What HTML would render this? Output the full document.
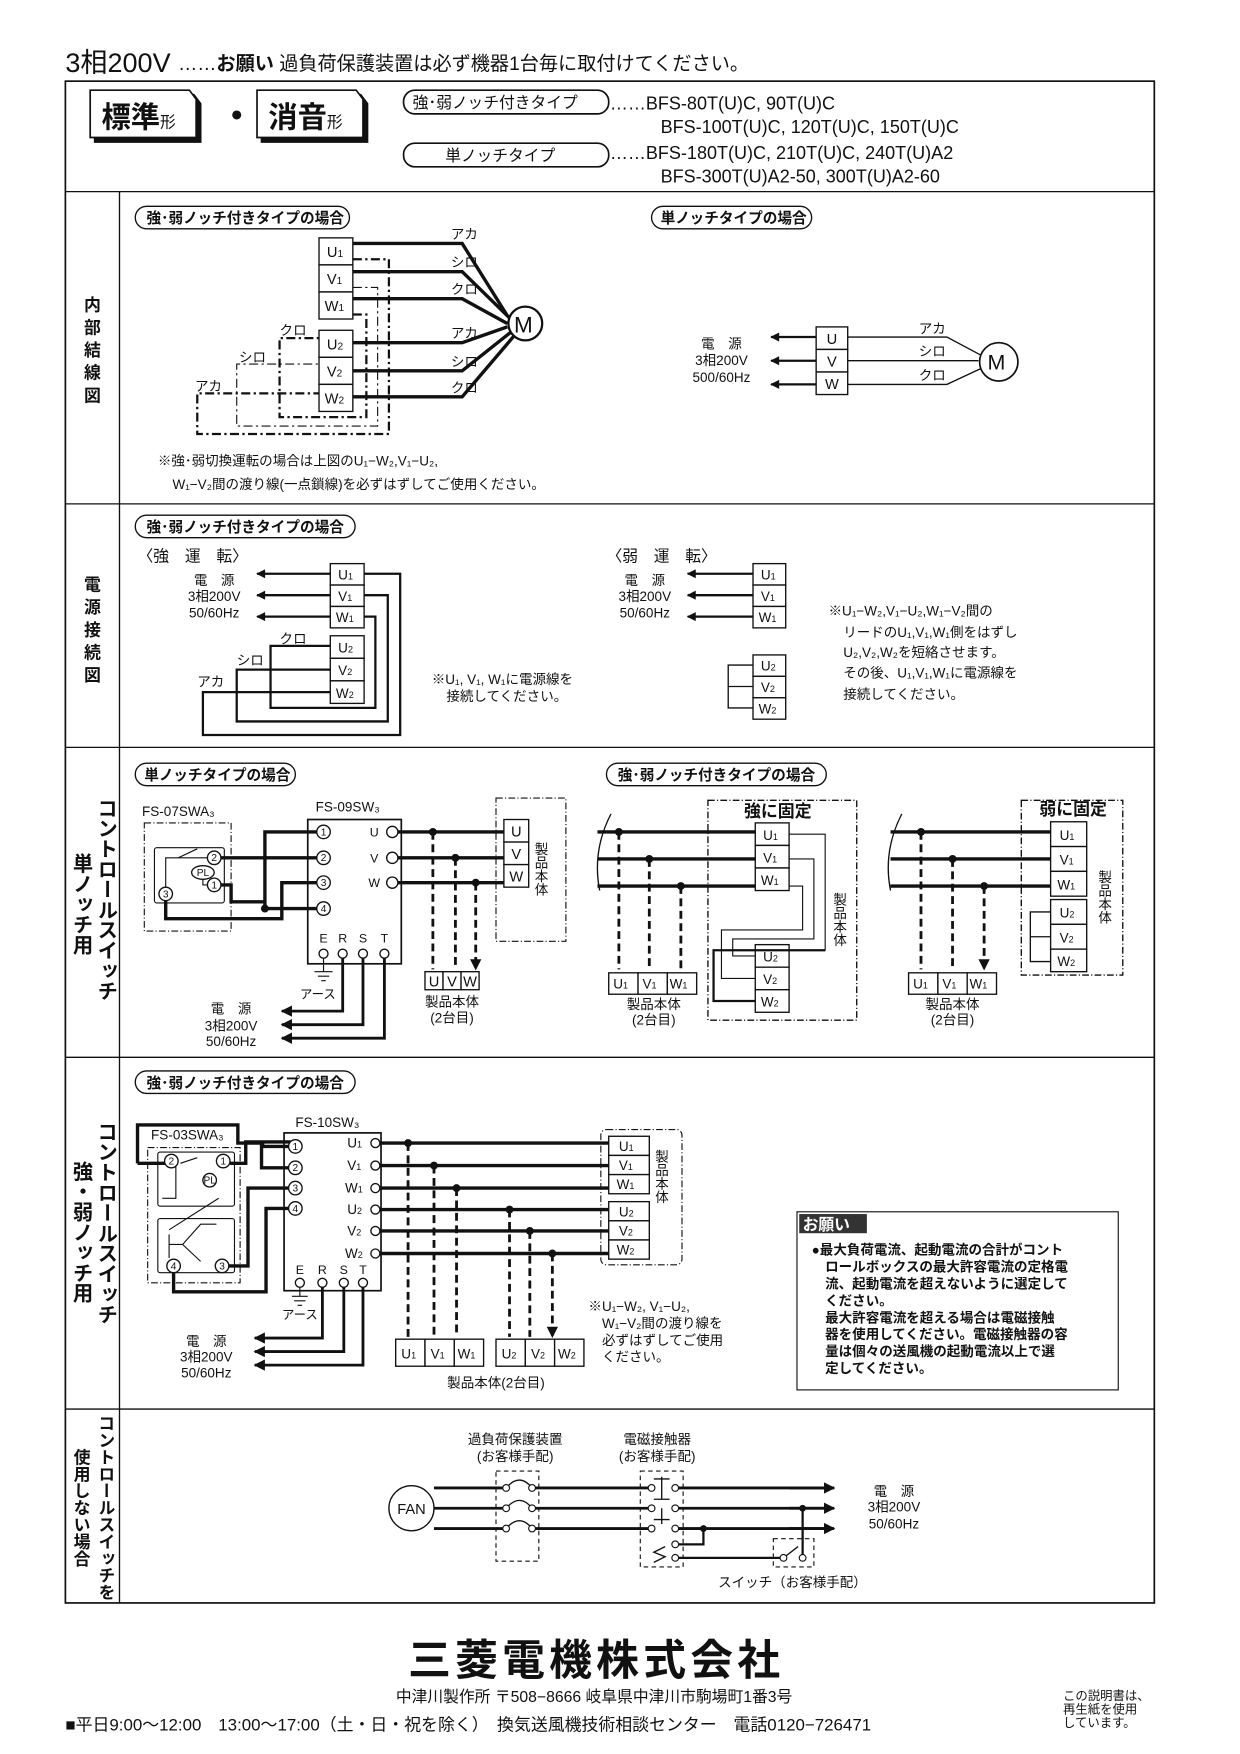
<!DOCTYPE html>
<html><head><meta charset="utf-8"><style>
html,body{margin:0;padding:0;background:#fff}
svg{display:block}
text{font-family:"Liberation Sans","Noto Sans CJK JP",sans-serif;fill:#111}
</style></head><body>
<svg width="1240" height="1754" viewBox="0 0 1100 1556" preserveAspectRatio="none" xmlns="http://www.w3.org/2000/svg">
<defs>
<marker id="ar" viewBox="0 0 10 10" refX="9" refY="5" markerWidth="5" markerHeight="4" orient="auto-start-reverse"><path d="M0,0L10,5L0,10z" fill="#111"/></marker>
</defs>
<g stroke="#111" fill="none">
<rect x="58" y="72" width="966" height="1350" stroke-width="1.5"/>
<path d="M58,170H1024M58,447H1024M58,663H1024M58,938H1024M58,1250H1024M106,170V1422" stroke-width="1.2"/>
</g>
<text x="58" y="64" font-size="24">3相200V</text>
<text x="158" y="62" font-size="17">……<tspan font-weight="bold">お願い</tspan> 過負荷保護装置は必ず機器1台毎に取付けてください。</text>
<g stroke="#111" fill="#fff" stroke-width="1.5">
<path d="M84,84H172L178,92V126H84Z" fill="#111"/><path d="M80,80H168L174,88V122H80Z"/>
<path d="M232,84H320L326,92V126H232Z" fill="#111"/><path d="M228,80H316L322,88V122H228Z"/>
<rect x="358" y="80" width="182" height="21" rx="10"/>
<rect x="358" y="127" width="182" height="21" rx="10"/>
</g>
<text x="90" y="113" font-size="26" font-weight="bold">標準<tspan font-size="14" font-weight="normal">形</tspan></text>
<circle cx="210" cy="102" r="4" fill="#111"/>
<text x="238" y="113" font-size="26" font-weight="bold">消音<tspan font-size="14" font-weight="normal">形</tspan></text>
<text x="366" y="96" font-size="14">強･弱ノッチ付きタイプ</text>
<text x="395" y="143" font-size="14">単ノッチタイプ</text>
<g font-size="16"><text x="541" y="97">……BFS-80T(U)C, 90T(U)C</text>
<text x="586" y="118">BFS-100T(U)C, 120T(U)C, 150T(U)C</text>
<text x="541" y="141">……BFS-180T(U)C, 210T(U)C, 240T(U)A2</text>
<text x="586" y="162">BFS-300T(U)A2-50, 300T(U)A2-60</text></g>

<g font-size="15" font-weight="bold" text-anchor="middle">
<text x="82" y="276">内</text><text x="82" y="296">部</text><text x="82" y="316">結</text><text x="82" y="336">線</text><text x="82" y="356">図</text>
<text x="82" y="524">電</text><text x="82" y="544">源</text><text x="82" y="564">接</text><text x="82" y="584">続</text><text x="82" y="604">図</text>
</g>
<g font-weight="bold" text-anchor="start">
<text x="93" y="708" font-size="18" writing-mode="tb">コントロールスイッチ</text>
<text x="71" y="757" font-size="18" writing-mode="tb">単ノッチ用</text>
<text x="93" y="995" font-size="18" writing-mode="tb">コントロールスイッチ</text>
<text x="71" y="1030" font-size="18" writing-mode="tb">強・弱ノッチ用</text>
<text x="93" y="1255" font-size="15" writing-mode="tb">コントロールスイッチを</text>
<text x="71" y="1285" font-size="15" writing-mode="tb">使用しない場合</text>
</g>

<g stroke="#111" fill="none" stroke-width="1.2">
<rect x="120" y="183" width="190" height="20" rx="10"/>
<rect x="578" y="183" width="142" height="20" rx="10"/>
<rect x="120" y="457" width="195" height="20" rx="10"/>
<rect x="120" y="677" width="142" height="20" rx="10"/>
<rect x="538" y="677" width="195" height="20" rx="10"/>
<rect x="120" y="950" width="195" height="20" rx="10"/>
</g>
<g font-size="13" font-weight="bold">
<text x="130" y="198">強･弱ノッチ付きタイプの場合</text>
<text x="586" y="198">単ノッチタイプの場合</text>
<text x="130" y="472">強･弱ノッチ付きタイプの場合</text>
<text x="128" y="692">単ノッチタイプの場合</text>
<text x="548" y="692">強･弱ノッチ付きタイプの場合</text>
<text x="130" y="965">強･弱ノッチ付きタイプの場合</text>
</g>

<!-- SECTION 1 -->
<g stroke="#111" fill="#fff" stroke-width="1.2">
<rect x="283" y="211" width="30" height="24"/><rect x="283" y="235" width="30" height="24"/><rect x="283" y="259" width="30" height="24"/>
<rect x="283" y="293" width="30" height="24"/><rect x="283" y="317" width="30" height="24"/><rect x="283" y="341" width="30" height="24"/>
</g>
<g font-size="13"><text x="290" y="228">U<tspan font-size="9">1</tspan></text><text x="290" y="252">V<tspan font-size="9">1</tspan></text><text x="288" y="276">W<tspan font-size="9">1</tspan></text>
<text x="290" y="310">U<tspan font-size="9">2</tspan></text><text x="290" y="334">V<tspan font-size="9">2</tspan></text><text x="288" y="358">W<tspan font-size="9">2</tspan></text></g>
<g stroke="#111" fill="none" stroke-width="3">
<path d="M313,216H410L450,280"/><path d="M313,241H410L454,284"/><path d="M313,265H410L450,287"/>
<path d="M313,304H410L450,290"/><path d="M313,329H410L454,294"/><path d="M313,352H410L456,298"/>
</g>
<circle cx="466" cy="287" r="15" stroke="#111" stroke-width="2" fill="#fff"/>
<text x="456" y="295" font-size="20">M</text>
<g font-size="12"><text x="400" y="212">アカ</text><text x="400" y="237">シロ</text><text x="400" y="261">クロ</text>
<text x="400" y="300">アカ</text><text x="400" y="325">シロ</text><text x="400" y="348">クロ</text>
<text x="248" y="297">クロ</text><text x="212" y="321">シロ</text><text x="173" y="347">アカ</text></g>
<g stroke="#111" fill="none" stroke-width="2" stroke-dasharray="8,3,2,3">
<path d="M313,230H345V385H175V349H283"/>
<path d="M313,255H335V378H210V323H283" stroke-width="1"/>
<path d="M313,279H325V370H248V300H283"/>
</g>
<g font-size="12"><text x="140" y="413">※強･弱切換運転の場合は上図のU₁−W₂,V₁−U₂,</text>
<text x="153" y="434">W₁−V₂間の渡り線(一点鎖線)を必ずはずしてご使用ください。</text></g>
<g stroke="#111" fill="#fff" stroke-width="1.2"><rect x="724" y="290" width="28" height="20"/><rect x="724" y="310" width="28" height="20"/><rect x="724" y="330" width="28" height="20"/></g>
<g font-size="13" text-anchor="middle"><text x="738" y="305">U</text><text x="738" y="325">V</text><text x="738" y="345">W</text></g>
<g stroke="#111" stroke-width="2" fill="none">
<path d="M724,299H684" marker-end="url(#ar)"/><path d="M724,320H684" marker-end="url(#ar)"/><path d="M724,341H684" marker-end="url(#ar)"/>
<path d="M752,299H840L870,315" stroke-width="1.2"/><path d="M752,320H868" stroke-width="1.2"/><path d="M752,341H840L870,327" stroke-width="1.2"/>
</g>
<circle cx="886" cy="321" r="17" stroke="#111" stroke-width="1.5" fill="#fff"/><text x="876" y="328" font-size="19">M</text>
<g font-size="12"><text x="815" y="296">アカ</text><text x="815" y="316">シロ</text><text x="815" y="337">クロ</text>
<g text-anchor="middle"><text x="640" y="309">電　源</text><text x="640" y="324">3相200V</text><text x="640" y="339">500/60Hz</text></g></g>

<!-- SECTION 2 -->
<text x="122" y="498" font-size="14">〈強　運　転〉</text>
<text x="538" y="498" font-size="14">〈弱　運　転〉</text>
<g stroke="#111" fill="#fff" stroke-width="1.2">
<rect x="293" y="500" width="30" height="19"/><rect x="293" y="519" width="30" height="19"/><rect x="293" y="538" width="30" height="19"/>
<rect x="293" y="564" width="30" height="20"/><rect x="293" y="584" width="30" height="20"/><rect x="293" y="604" width="30" height="20"/>
<rect x="668" y="500" width="29" height="19"/><rect x="668" y="519" width="29" height="19"/><rect x="668" y="538" width="29" height="19"/>
<rect x="668" y="581" width="29" height="19"/><rect x="668" y="600" width="29" height="19"/><rect x="668" y="619" width="29" height="19"/>
</g>
<g font-size="12"><text x="300" y="514">U<tspan font-size="8">1</tspan></text><text x="300" y="533">V<tspan font-size="8">1</tspan></text><text x="298" y="552">W<tspan font-size="8">1</tspan></text>
<text x="300" y="579">U<tspan font-size="8">2</tspan></text><text x="300" y="599">V<tspan font-size="8">2</tspan></text><text x="298" y="619">W<tspan font-size="8">2</tspan></text>
<text x="675" y="514">U<tspan font-size="8">1</tspan></text><text x="675" y="533">V<tspan font-size="8">1</tspan></text><text x="673" y="552">W<tspan font-size="8">1</tspan></text>
<text x="675" y="595">U<tspan font-size="8">2</tspan></text><text x="675" y="614">V<tspan font-size="8">2</tspan></text><text x="673" y="633">W<tspan font-size="8">2</tspan></text></g>
<g stroke="#111" stroke-width="2" fill="none">
<path d="M293,509H228" marker-end="url(#ar)"/><path d="M293,528H228" marker-end="url(#ar)"/><path d="M293,547H228" marker-end="url(#ar)"/>
<path d="M668,509H610" marker-end="url(#ar)"/><path d="M668,528H610" marker-end="url(#ar)"/><path d="M668,547H610" marker-end="url(#ar)"/>
<path d="M323,509H355V652H180V614H293"/>
<path d="M323,528H344V640H210V594H293"/>
<path d="M323,547H333V628H240V573H293"/>
<path d="M668,590H646V628H668M646,609H668" stroke-width="1.2"/>
</g>
<g font-size="12" text-anchor="middle"><text x="190" y="519">電　源</text><text x="190" y="533">3相200V</text><text x="190" y="548">50/60Hz</text>
<text x="572" y="519">電　源</text><text x="572" y="533">3相200V</text><text x="572" y="548">50/60Hz</text></g>
<g font-size="12"><text x="248" y="571">クロ</text><text x="210" y="590">シロ</text><text x="175" y="609">アカ</text>
<text x="383" y="607">※U₁, V₁, W₁に電源線を</text><text x="396" y="622">接続してください。</text>
<text x="735" y="546">※U₁−W₂,V₁−U₂,W₁−V₂間の</text><text x="748" y="565">リードのU₁,V₁,W₁側をはずし</text>
<text x="748" y="583">U₂,V₂,W₂を短絡させます。</text><text x="748" y="601">その後、U₁,V₁,W₁に電源線を</text><text x="748" y="620">接続してください。</text></g>

<!-- SECTION 3 -->
<g font-size="12"><text x="126" y="724">FS-07SWA₃</text><text x="280" y="720">FS-09SW₃</text></g>
<g stroke="#111" fill="none" stroke-width="1">
<rect x="128" y="730" width="77" height="96" stroke-dasharray="6,2,1,2"/>
<rect x="137" y="752" width="62" height="49" rx="2"/>
<rect x="273" y="727" width="83" height="128" stroke-width="1.5"/>
<rect x="440" y="708" width="62" height="127" stroke-dasharray="6,2,1,2"/>
</g>
<g stroke="#111" fill="#fff" stroke-width="1.2">
<circle cx="287" cy="738" r="6"/><circle cx="287" cy="761" r="6"/><circle cx="287" cy="783" r="6"/><circle cx="287" cy="806" r="6"/>
<circle cx="348" cy="738" r="5"/><circle cx="348" cy="761" r="5"/><circle cx="348" cy="783" r="5"/>
<circle cx="287" cy="846" r="4"/><circle cx="304" cy="846" r="4"/><circle cx="322" cy="846" r="4"/><circle cx="341" cy="846" r="4"/>
<circle cx="190" cy="761" r="6"/><circle cx="190" cy="785" r="6"/><circle cx="147" cy="793" r="6"/>
<ellipse cx="180" cy="774" rx="10" ry="6"/>
<rect x="447" y="727" width="22" height="20"/><rect x="447" y="747" width="22" height="20"/><rect x="447" y="767" width="22" height="20"/>
<rect x="377" y="862" width="16" height="16"/><rect x="393" y="862" width="16" height="16"/><rect x="409" y="862" width="16" height="16"/>
</g>
<g font-size="9" text-anchor="middle"><text x="287" y="741">1</text><text x="287" y="764">2</text><text x="287" y="786">3</text><text x="287" y="809">4</text>
<text x="190" y="764">2</text><text x="190" y="788">1</text><text x="147" y="796">3</text><text x="180" y="777">PL</text></g>
<g font-size="11" text-anchor="middle"><text x="332" y="742">U</text><text x="332" y="765">V</text><text x="332" y="787">W</text>
<text x="287" y="836">E</text><text x="304" y="836">R</text><text x="322" y="836">S</text><text x="341" y="836">T</text>
<text x="282" y="886">アース</text></g>
<g font-size="13" text-anchor="middle"><text x="458" y="742">U</text><text x="458" y="762">V</text><text x="458" y="782">W</text>
<text x="385" y="875">U</text><text x="401" y="875">V</text><text x="417" y="875">W</text></g>
<g font-size="12" text-anchor="middle"><text x="401" y="893">製品本体</text><text x="401" y="907">(2台目)</text>
<text x="205" y="899">電　源</text><text x="205" y="914">3相200V</text><text x="205" y="928">50/60Hz</text></g>
<g font-size="12"><text x="479" y="747" writing-mode="tb">製品本体</text></g>
<g stroke="#111" fill="none" stroke-width="3">
<path d="M281,738H235V806H281"/><path d="M196,761H281"/><path d="M196,785H205V800H235"/>
<path d="M147,799V815H250V783H281"/>
<path d="M353,738H447M353,761H447M353,783H447"/>
<path d="M304,850V897H250" stroke-width="2.5" marker-end="url(#ar)"/><path d="M322,850V909H250" stroke-width="2.5" marker-end="url(#ar)"/><path d="M341,850V921H250" stroke-width="2.5" marker-end="url(#ar)"/>
<path d="M384,738V860M404,761V860M422,783V860" stroke-width="2.5" stroke-dasharray="7,4" marker-end="url(#ar)"/>
</g>
<g stroke="#111" fill="none" stroke-width="1"><path d="M147,787V761H184M158,761L175,753"/><path d="M180,780V785H184"/>
<path d="M287,850V862M279,862H295M282,866H292M285,870H289"/></g>
<g fill="#111"><circle cx="235" cy="806" r="3.5"/><circle cx="384" cy="738" r="3.5"/><circle cx="404" cy="761" r="3.5"/><circle cx="422" cy="783" r="3.5"/></g>

<g stroke="#111" fill="none" stroke-width="1.2">
<path d="M542,722Q525,755 532,790"/><path d="M800,722Q783,755 790,790"/>
<rect x="628" y="710" width="132" height="195" stroke-dasharray="6,2,1,2"/>
<rect x="906" y="710" width="90" height="155" stroke-dasharray="6,2,1,2"/>
</g>
<g stroke="#111" fill="#fff" stroke-width="1.2">
<rect x="670" y="730" width="30" height="20"/><rect x="670" y="750" width="30" height="20"/><rect x="670" y="770" width="30" height="20"/>
<rect x="670" y="838" width="30" height="20"/><rect x="670" y="858" width="30" height="20"/><rect x="670" y="878" width="30" height="20"/>
<rect x="540" y="863" width="26" height="19"/><rect x="566" y="863" width="26" height="19"/><rect x="592" y="863" width="26" height="19"/>
<rect x="932" y="729" width="32" height="22"/><rect x="932" y="751" width="32" height="22"/><rect x="932" y="773" width="32" height="22"/>
<rect x="932" y="798" width="32" height="22"/><rect x="932" y="820" width="32" height="22"/><rect x="932" y="842" width="32" height="20"/>
<rect x="806" y="863" width="26" height="19"/><rect x="832" y="863" width="26" height="19"/><rect x="858" y="863" width="26" height="19"/>
</g>
<g font-size="12"><text x="677" y="745">U<tspan font-size="8">1</tspan></text><text x="677" y="765">V<tspan font-size="8">1</tspan></text><text x="675" y="785">W<tspan font-size="8">1</tspan></text>
<text x="677" y="853">U<tspan font-size="8">2</tspan></text><text x="677" y="873">V<tspan font-size="8">2</tspan></text><text x="675" y="893">W<tspan font-size="8">2</tspan></text>
<text x="544" y="877">U<tspan font-size="8">1</tspan></text><text x="570" y="877">V<tspan font-size="8">1</tspan></text><text x="594" y="877">W<tspan font-size="8">1</tspan></text>
<text x="940" y="745">U<tspan font-size="8">1</tspan></text><text x="940" y="767">V<tspan font-size="8">1</tspan></text><text x="938" y="789">W<tspan font-size="8">1</tspan></text>
<text x="940" y="814">U<tspan font-size="8">2</tspan></text><text x="940" y="836">V<tspan font-size="8">2</tspan></text><text x="938" y="857">W<tspan font-size="8">2</tspan></text>
<text x="810" y="877">U<tspan font-size="8">1</tspan></text><text x="836" y="877">V<tspan font-size="8">1</tspan></text><text x="860" y="877">W<tspan font-size="8">1</tspan></text></g>
<g font-size="15" font-weight="bold" text-anchor="middle"><text x="690" y="725">強に固定</text><text x="952" y="723">弱に固定</text></g>
<g font-size="12" text-anchor="middle"><text x="580" y="895">製品本体</text><text x="580" y="909">(2台目)</text>
<text x="845" y="895">製品本体</text><text x="845" y="909">(2台目)</text></g>
<g font-size="12"><text x="744" y="792" writing-mode="tb">製品本体</text><text x="979" y="772" writing-mode="tb">製品本体</text></g>
<g stroke="#111" fill="none" stroke-width="3">
<path d="M530,738H670M530,762H670M530,786H670"/>
<path d="M790,738H932M790,762H932M790,786H932"/>
<path d="M549,738V860M576,762V860M604,786V860M817,738V860M845,762V860M873,786V860" stroke-width="2.5" stroke-dasharray="7,4" marker-end="url(#ar)"/>
</g>
<g stroke="#111" fill="none" stroke-width="1.2">
<path d="M700,740H732V843H712" stroke-width="1"/>
<path d="M700,762H722V833H650V848H670" stroke-width="1"/>
<path d="M700,786H712V825H640V868H670" stroke-width="1"/>
<path d="M732,843H633V888H670" stroke-width="2"/>
<path d="M932,809H914V853H932M914,831H932"/>
</g>
<g fill="#111"><circle cx="549" cy="738" r="3.5"/><circle cx="576" cy="762" r="3.5"/><circle cx="604" cy="786" r="3.5"/>
<circle cx="817" cy="738" r="3.5"/><circle cx="845" cy="762" r="3.5"/><circle cx="873" cy="786" r="3.5"/></g>

<!-- SECTION 4 -->
<g font-size="12"><text x="134" y="1011">FS-03SWA₃</text><text x="262" y="1000">FS-10SW₃</text></g>
<g stroke="#111" fill="none" stroke-width="1">
<rect x="131" y="1018" width="82" height="120" stroke-dasharray="6,2,1,2"/>
<rect x="140" y="1022" width="68" height="48" rx="2"/><rect x="140" y="1081" width="68" height="48" rx="2"/>
<rect x="252" y="1005" width="86" height="140" stroke-width="1.5"/>
<rect x="533" y="1002" width="72" height="120" rx="5" stroke-dasharray="6,2,1,2"/>
<path d="M144,1063H156V1032M194,1063L150,1091M150,1095V1116M150,1104H162L178,1086H192M162,1104L178,1119"/>
<path d="M160,1032L175,1027"/>
</g>
<path d="M122,1032V998H211V1014H233V1017H256" stroke="#111" stroke-width="3" fill="none"/>
<path d="M122,1032H148M204,1032H218V1013H258" stroke="#111" stroke-width="3" fill="none"/>
<path d="M232,1013V1036H256" stroke="#111" stroke-width="3" fill="none"/>
<g stroke="#111" fill="#fff" stroke-width="1.2">
<circle cx="152" cy="1030" r="6"/><circle cx="198" cy="1030" r="6"/><circle cx="186" cy="1047" r="6"/>
<circle cx="154" cy="1123" r="6"/><circle cx="197" cy="1123" r="6"/>
<circle cx="262" cy="1017" r="6"/><circle cx="262" cy="1036" r="6"/><circle cx="262" cy="1054" r="6"/><circle cx="262" cy="1072" r="6"/>
<circle cx="333" cy="1014" r="4"/><circle cx="333" cy="1034" r="4"/><circle cx="333" cy="1054" r="4"/><circle cx="333" cy="1073" r="4"/><circle cx="333" cy="1092" r="4"/><circle cx="333" cy="1112" r="4"/>
<circle cx="266" cy="1138" r="4"/><circle cx="286" cy="1138" r="4"/><circle cx="305" cy="1138" r="4"/><circle cx="322" cy="1138" r="4"/>
<rect x="540" y="1008" width="36" height="17"/><rect x="540" y="1025" width="36" height="17"/><rect x="540" y="1042" width="36" height="17"/>
<rect x="540" y="1066" width="36" height="17"/><rect x="540" y="1083" width="36" height="17"/><rect x="540" y="1100" width="36" height="17"/>
<rect x="351" y="1188" width="26" height="24"/><rect x="377" y="1188" width="26" height="24"/><rect x="403" y="1188" width="26" height="24"/>
<rect x="440" y="1188" width="26" height="24"/><rect x="466" y="1188" width="26" height="24"/><rect x="492" y="1188" width="26" height="24"/>
</g>
<g font-size="9" text-anchor="middle"><text x="152" y="1033">2</text><text x="198" y="1033">1</text><text x="186" y="1050">PL</text><text x="154" y="1126">4</text><text x="197" y="1126">3</text>
<text x="262" y="1020">1</text><text x="262" y="1039">2</text><text x="262" y="1057">3</text><text x="262" y="1075">4</text></g>
<g font-size="12"><text x="308" y="1018">U<tspan font-size="8">1</tspan></text><text x="308" y="1038">V<tspan font-size="8">1</tspan></text><text x="306" y="1058">W<tspan font-size="8">1</tspan></text>
<text x="308" y="1077">U<tspan font-size="8">2</tspan></text><text x="308" y="1096">V<tspan font-size="8">2</tspan></text><text x="306" y="1116">W<tspan font-size="8">2</tspan></text>
<text x="549" y="1021">U<tspan font-size="8">1</tspan></text><text x="549" y="1038">V<tspan font-size="8">1</tspan></text><text x="547" y="1055">W<tspan font-size="8">1</tspan></text>
<text x="549" y="1079">U<tspan font-size="8">2</tspan></text><text x="549" y="1096">V<tspan font-size="8">2</tspan></text><text x="547" y="1113">W<tspan font-size="8">2</tspan></text>
<text x="356" y="1205">U<tspan font-size="8">1</tspan></text><text x="382" y="1205">V<tspan font-size="8">1</tspan></text><text x="406" y="1205">W<tspan font-size="8">1</tspan></text>
<text x="445" y="1205">U<tspan font-size="8">2</tspan></text><text x="471" y="1205">V<tspan font-size="8">2</tspan></text><text x="495" y="1205">W<tspan font-size="8">2</tspan></text></g>
<g font-size="11" text-anchor="middle"><text x="266" y="1130">E</text><text x="286" y="1130">R</text><text x="305" y="1130">S</text><text x="322" y="1130">T</text><text x="266" y="1170">アース</text></g>
<g font-size="12" text-anchor="middle"><text x="183" y="1194">電　源</text><text x="183" y="1208">3相200V</text><text x="183" y="1222">50/60Hz</text><text x="440" y="1231">製品本体(2台目)</text></g>
<text x="586" y="1020" font-size="12" writing-mode="tb">製品本体</text>
<g font-size="12"><text x="522" y="1163">※U₁−W₂, V₁−U₂,</text><text x="534" y="1178">W₁−V₂間の渡り線を</text><text x="534" y="1193">必ずはずしてご使用</text><text x="534" y="1208">ください。</text></g>
<g stroke="#111" fill="none" stroke-width="3">
<path d="M203,1123H220V1054H256M154,1129V1146H236V1072H256"/>
<path d="M337,1014H540M337,1034H540M337,1054H540M337,1073H540M337,1092H540M337,1112H540"/>
<path d="M286,1142V1187H226" stroke-width="2.5" marker-end="url(#ar)"/><path d="M305,1142V1199H226" stroke-width="2.5" marker-end="url(#ar)"/><path d="M322,1142V1211H226" stroke-width="2.5" marker-end="url(#ar)"/>
<path d="M362,1014V1186M385,1034V1186M405,1054V1186M452,1073V1186M470,1092V1186M490,1112V1186" stroke-width="2.5" stroke-dasharray="7,4" marker-end="url(#ar)"/>
</g>
<path d="M266,1142V1150M259,1150H273M261,1154H271M264,1158H268" stroke="#111" fill="none"/>
<g fill="#111"><circle cx="362" cy="1014" r="3.5"/><circle cx="385" cy="1034" r="3.5"/><circle cx="405" cy="1054" r="3.5"/><circle cx="452" cy="1073" r="3.5"/><circle cx="470" cy="1092" r="3.5"/><circle cx="490" cy="1112" r="3.5"/></g>
<rect x="707" y="1075" width="285" height="158" stroke="#111" fill="none" stroke-width="1"/>
<rect x="709" y="1077" width="60" height="17" fill="#333"/>
<text x="712" y="1091" font-size="14" font-weight="bold" style="fill:#fff">お願い</text>
<g font-size="12" font-weight="bold"><text x="720" y="1113">●最大負荷電流、起動電流の合計がコント</text>
<text x="732" y="1128">ロールボックスの最大許容電流の定格電</text><text x="732" y="1143">流、起動電流を超えないように選定して</text>
<text x="732" y="1158">ください。</text><text x="732" y="1173">最大許容電流を超える場合は電磁接触</text>
<text x="732" y="1188">器を使用してください。電磁接触器の容</text><text x="732" y="1203">量は個々の送風機の起動電流以上で選</text><text x="732" y="1218">定してください。</text></g>

<!-- SECTION 5 -->
<circle cx="365" cy="1338" r="20" stroke="#111" fill="#fff" stroke-width="1.2"/>
<text x="365" y="1343" font-size="13" text-anchor="middle">FAN</text>
<g font-size="12" text-anchor="middle"><text x="457" y="1281">過負荷保護装置</text><text x="457" y="1296">(お客様手配)</text>
<text x="583" y="1281">電磁接触器</text><text x="583" y="1296">(お客様手配)</text>
<text x="793" y="1327">電　源</text><text x="793" y="1341">3相200V</text><text x="793" y="1356">50/60Hz</text>
<text x="703" y="1408">スイッチ（お客様手配）</text></g>
<g stroke="#111" fill="none" stroke-dasharray="4,3" stroke-width="1">
<rect x="440" y="1305" width="38" height="80"/><rect x="568" y="1305" width="38" height="85"/><rect x="686" y="1365" width="36" height="25"/>
</g>
<g stroke="#111" fill="none" stroke-width="2.5">
<path d="M385,1320H446M475,1320H575M602,1320H736" /><path d="M385,1338H446M475,1338H575M602,1338H736"/><path d="M385,1356H446M475,1356H575M602,1356H736"/>
<path d="M700,1320H740" marker-end="url(#ar)"/><path d="M700,1338H740" marker-end="url(#ar)"/><path d="M700,1356H740" marker-end="url(#ar)"/>
<path d="M602,1356H624V1370H602" stroke-width="2"/><path d="M602,1382H692" stroke-width="2"/><path d="M712,1338V1382" stroke-width="2"/>
</g>
<g stroke="#111" fill="none" stroke-width="1.2">
<path d="M449,1320Q461,1306 472,1320M449,1338Q461,1324 472,1338M449,1356Q461,1342 472,1356"/>
<path d="M587,1310V1330M587,1338V1352M580,1312H594M580,1330H594M580,1348H594M590,1372L580,1377L590,1381L580,1386"/>
<path d="M695,1382L708,1372"/>
</g>
<g stroke="#111" fill="#fff" stroke-width="1"><circle cx="449" cy="1320" r="3"/><circle cx="472" cy="1320" r="3"/><circle cx="449" cy="1338" r="3"/><circle cx="472" cy="1338" r="3"/><circle cx="449" cy="1356" r="3"/><circle cx="472" cy="1356" r="3"/>
<circle cx="578" cy="1320" r="3"/><circle cx="599" cy="1320" r="3"/><circle cx="578" cy="1338" r="3"/><circle cx="599" cy="1338" r="3"/><circle cx="578" cy="1356" r="3"/><circle cx="599" cy="1356" r="3"/><circle cx="599" cy="1370" r="3"/><circle cx="599" cy="1382" r="3"/><circle cx="695" cy="1382" r="3"/><circle cx="712" cy="1382" r="3"/></g>
<g fill="#111"><circle cx="624" cy="1356" r="3"/><circle cx="712" cy="1338" r="3"/></g>

<!-- footer -->
<text x="527" y="1486" font-size="38" font-weight="bold" text-anchor="middle" textLength="330">三菱電機株式会社</text>
<text x="527" y="1510" font-size="14" text-anchor="middle">中津川製作所 〒508−8666 岐阜県中津川市駒場町1番3号</text>
<text x="58" y="1535" font-size="15">■平日9:00〜12:00　13:00〜17:00（土・日・祝を除く）　換気送風機技術相談センター　電話0120−726471</text>
<g font-size="11"><text x="943" y="1508">この説明書は、</text><text x="943" y="1520">再生紙を使用</text><text x="943" y="1532">しています。</text></g>
</svg>
</body></html>
